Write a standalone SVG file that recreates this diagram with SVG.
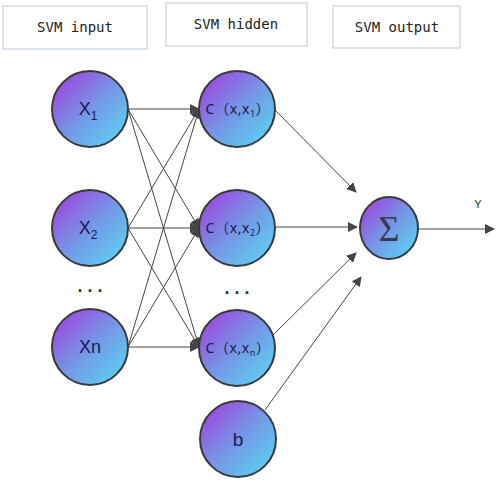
<svg xmlns="http://www.w3.org/2000/svg" width="500" height="485" viewBox="0 0 500 485">
<defs>
<linearGradient id="g" x1="0.1" y1="0.1" x2="0.9" y2="0.9">
<stop offset="0" stop-color="#9b48e0"/>
<stop offset="0.5" stop-color="#7596e6"/>
<stop offset="1" stop-color="#5cd0f2"/>
</linearGradient>
<marker id="a" viewBox="0 0 10 10" refX="9" refY="5" markerWidth="10" markerHeight="10" markerUnits="userSpaceOnUse" orient="auto">
<path d="M0,0 L10,5 L0,10 z" fill="#444"/>
</marker>
<style>
.hb{fill:#fff;stroke:#cfdbe6;stroke-width:1.5}
.ht{font-family:"DejaVu Sans Mono",monospace;font-size:14px;fill:#222;text-anchor:middle}
.n{fill:url(#g);stroke:#3a3a3a;stroke-width:2}
.t{font-family:"Liberation Sans",Arial,sans-serif;fill:#1c1a4a;text-anchor:middle}
.c{font-family:"Noto Sans","Noto Sans CJK SC",sans-serif;font-size:14px;letter-spacing:0.6px;fill:#1c1a4a;text-anchor:middle}
.e{stroke:#444;stroke-width:1;fill:none;marker-end:url(#a)}
.d{font-family:"Liberation Sans",Arial,sans-serif;font-size:18px;fill:#333;text-anchor:middle;font-weight:bold}
</style>
</defs>
<g id="headers">
<g id="h-input"><rect class="hb" x="3" y="6" width="144" height="43"/><text class="ht" x="75" y="32">SVM input</text></g>
<g id="h-hidden"><rect class="hb" x="166" y="3" width="141" height="43"/><text class="ht" x="236" y="29">SVM hidden</text></g>
<g id="h-output"><rect class="hb" x="333" y="6" width="127" height="42"/><text class="ht" x="397" y="32">SVM output</text></g>
</g>
<g id="connectors">
<line class="e" x1="128" y1="109" x2="199" y2="109"/>
<line class="e" x1="128" y1="109" x2="199" y2="228"/>
<line class="e" x1="128" y1="109" x2="199" y2="347"/>
<line class="e" x1="128" y1="228" x2="199" y2="109"/>
<line class="e" x1="128" y1="228" x2="199" y2="228"/>
<line class="e" x1="128" y1="228" x2="199" y2="347"/>
<line class="e" x1="128" y1="347" x2="199" y2="109"/>
<line class="e" x1="128" y1="347" x2="199" y2="228"/>
<line class="e" x1="128" y1="347" x2="199" y2="347"/>
<line class="e" x1="275" y1="110" x2="356" y2="192"/>
<line class="e" x1="276" y1="227" x2="357" y2="227"/>
<line class="e" x1="273" y1="335" x2="356" y2="253"/>
<line class="e" x1="265" y1="410" x2="361" y2="277"/>
<line class="e" x1="418" y1="229" x2="494" y2="229"/>
</g>
<g id="x1"><circle class="n" cx="90" cy="109" r="38"/><text class="t" x="88" y="115" font-size="18">X<tspan font-size="12" dy="5">1</tspan></text></g>
<g id="x2"><circle class="n" cx="90" cy="228" r="38"/><text class="t" x="88" y="234" font-size="18">X<tspan font-size="12" dy="5">2</tspan></text></g>
<g id="xn"><circle class="n" cx="90" cy="347" r="38"/><text class="t" x="90" y="353" font-size="18">Xn</text></g>
<g id="c1"><circle class="n" cx="237" cy="109" r="38"/><text class="c" x="238" y="114">C（x,x<tspan font-size="9" dy="3">1</tspan><tspan dy="-3">）</tspan></text></g>
<g id="c2"><circle class="n" cx="237" cy="228" r="38"/><text class="c" x="238" y="233">C（x,x<tspan font-size="9" dy="3">2</tspan><tspan dy="-3">）</tspan></text></g>
<g id="cn"><circle class="n" cx="237" cy="348" r="38"/><text class="c" x="238" y="353">C（x,x<tspan font-size="9" dy="3">n</tspan><tspan dy="-3">）</tspan></text></g>
<g id="b"><circle class="n" cx="238" cy="439" r="38"/><text class="t" x="238" y="446" font-size="19">b</text></g>
<g id="sum"><ellipse class="n" cx="389" cy="228" rx="29" ry="31"/><text x="389" y="241" font-family="'Liberation Serif',serif" font-size="36" fill="#3a3a50" text-anchor="middle">Σ</text></g>
<g id="dots"><text class="d" x="90" y="292">. . .</text><text class="d" x="237" y="294">. . .</text></g>
<g id="y"><text x="478" y="208" font-family="'Liberation Sans',Arial,sans-serif" font-size="11" fill="#333" text-anchor="middle">Y</text></g>
</svg>
